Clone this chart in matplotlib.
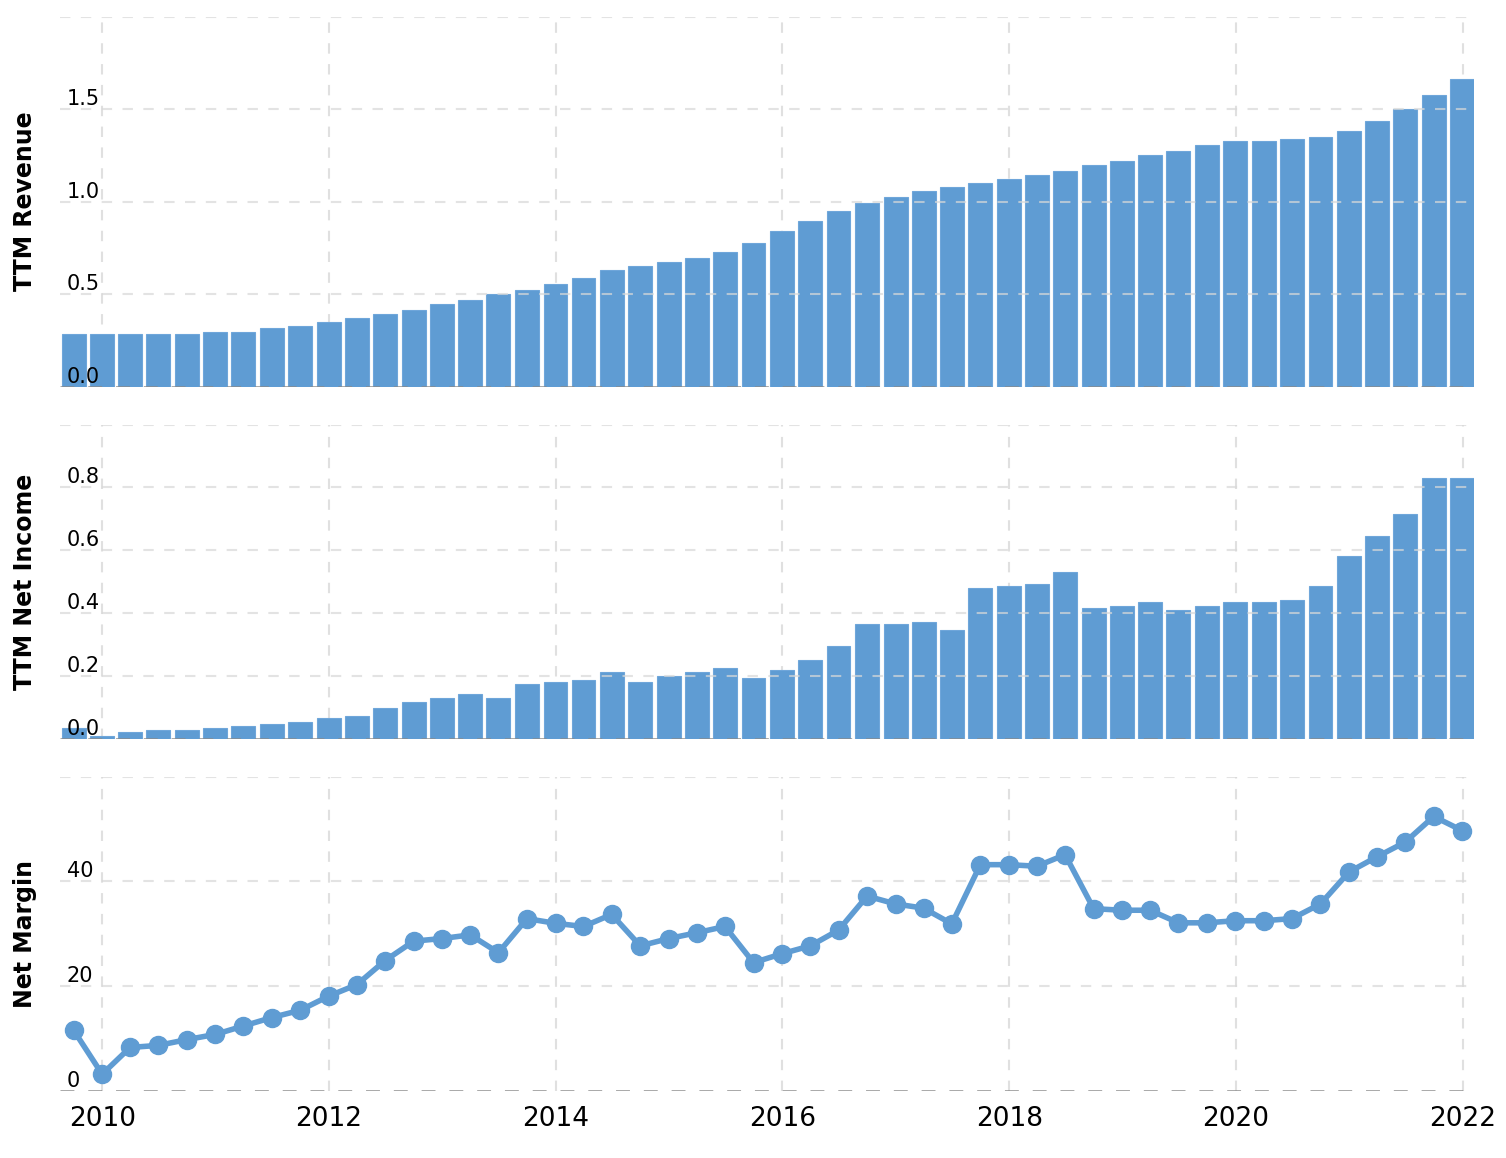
import pandas as pd
import matplotlib
matplotlib.use("Agg")
import matplotlib.pyplot as plt
import matplotlib.dates as mdates

# quarter ends, Q3 2009 .. Q4 2021
quarters = pd.date_range("2009-09-30", "2021-12-31", freq="QE")

# TTM revenue (billions)
revenue = [0.284, 0.284, 0.284, 0.284, 0.284, 0.295, 0.295, 0.316, 0.327, 0.348,
           0.370, 0.392, 0.413, 0.445, 0.467, 0.499, 0.521, 0.553, 0.585, 0.629,
           0.650, 0.672, 0.693, 0.726, 0.779, 0.844, 0.898, 0.952, 0.995, 1.027,
           1.060, 1.081, 1.103, 1.124, 1.146, 1.167, 1.200, 1.221, 1.254, 1.275,
           1.307, 1.329, 1.329, 1.340, 1.351, 1.383, 1.437, 1.501, 1.577, 1.663]

# TTM net income (billions)
net_income = [0.034, 0.008, 0.021, 0.028, 0.028, 0.034, 0.040, 0.047, 0.053, 0.066,
              0.072, 0.097, 0.117, 0.129, 0.142, 0.129, 0.174, 0.180, 0.186, 0.212,
              0.180, 0.199, 0.212, 0.225, 0.193, 0.218, 0.250, 0.295, 0.364, 0.364,
              0.371, 0.345, 0.479, 0.485, 0.492, 0.530, 0.415, 0.422, 0.434, 0.409,
              0.422, 0.434, 0.434, 0.441, 0.485, 0.581, 0.644, 0.714, 0.829, 0.829]

# net margin (%)
net_margin = [11.6, 3.2, 8.3, 8.7, 9.8, 10.8, 12.4, 14.0, 15.4, 18.1,
              20.3, 24.9, 28.6, 29.1, 29.8, 26.4, 32.9, 32.0, 31.4, 33.7,
              27.7, 29.1, 30.2, 31.4, 24.5, 26.2, 27.7, 30.7, 37.2, 35.7,
              34.9, 31.9, 43.2, 43.2, 42.9, 45.1, 34.8, 34.5, 34.5, 32.1,
              32.1, 32.5, 32.5, 32.9, 35.7, 41.8, 44.7, 47.5, 52.4, 49.7]

rev_ticks = [0, 0.5, 1.0, 1.5, 2.0]
rev_labels = ["0.0", "0.5", "1.0", "1.5", ""]
ni_ticks = [0, 0.2, 0.4, 0.6, 0.8, 1.0]
ni_labels = ["0.0", "0.2", "0.4", "0.6", "0.8", ""]
nm_ticks = [0, 20, 40, 60]
nm_labels = ["0", "20", "40", ""]
year_ticks = pd.to_datetime([f"{y}-01-01" for y in range(2010, 2023, 2)])

blue = "#5f9cd3"
grid_c = "#e0e0e0"
dash = (0, (5, 5))

fig = plt.figure(figsize=(15.06, 11.58), dpi=100)
ax1 = fig.add_axes([0.0398, 0.6661, 0.9390, 0.3195])
ax2 = fig.add_axes([0.0398, 0.3621, 0.9390, 0.2712], sharex=ax1)
ax3 = fig.add_axes([0.0398, 0.0579, 0.9390, 0.2714], sharex=ax1)

bar_w = pd.Timedelta(days=77)
ax1.bar(quarters, revenue, width=bar_w, color=blue, edgecolor="#6fa6da", linewidth=0.8, zorder=2)
ax2.bar(quarters, net_income, width=bar_w, color=blue, edgecolor="#6fa6da", linewidth=0.8, zorder=2)
ax3.plot(quarters, net_margin, color=blue, lw=4, marker="o", markersize=13, zorder=3)

panels = [
    (ax1, rev_ticks, rev_labels, "TTM Revenue"),
    (ax2, ni_ticks, ni_labels, "TTM Net Income"),
    (ax3, nm_ticks, nm_labels, "Net Margin"),
]
for ax, ticks, labels, name in panels:
    ax.set_axisbelow(False)  # tick labels above the bars
    ax.set_ylim(ticks[0], ticks[-1])
    ax.set_yticks(ticks, labels)
    for t in ax.get_yticklabels():
        t.set_horizontalalignment("left")
        t.set_verticalalignment("bottom")
    ax.tick_params(axis="y", length=0, pad=-5, labelsize=15)
    for s in ax.spines.values():
        s.set_visible(False)
    # vertical grid under the bars
    for d in year_ticks:
        ax.axvline(d, color=grid_c, lw=1.5, linestyle=dash, zorder=1)
    # horizontal grid drawn over the bars
    for v in ticks[1:]:
        ax.axhline(v, color="#d8d8d8", lw=1.5, linestyle=dash, alpha=0.7, zorder=2.5)
    ax.axhline(0, color="#8a8a8a", lw=2, linestyle=dash, alpha=0.8, zorder=2.5)
    ax.set_ylabel(name, fontsize=17, fontweight="bold")
    ax.yaxis.set_label_coords(-0.0163, 0.5)

ax1.set_xticks(year_ticks)
ax1.xaxis.set_major_formatter(mdates.DateFormatter("%Y"))
ax1.set_xlim(pd.Timestamp("2009-08-17"), pd.Timestamp("2022-02-07"))
ax1.tick_params(axis="x", labelbottom=False, length=0)
ax2.tick_params(axis="x", labelbottom=False, length=0)
ax3.tick_params(axis="x", length=0, pad=11, labelsize=19)

fig.savefig("out.png", dpi=100)
